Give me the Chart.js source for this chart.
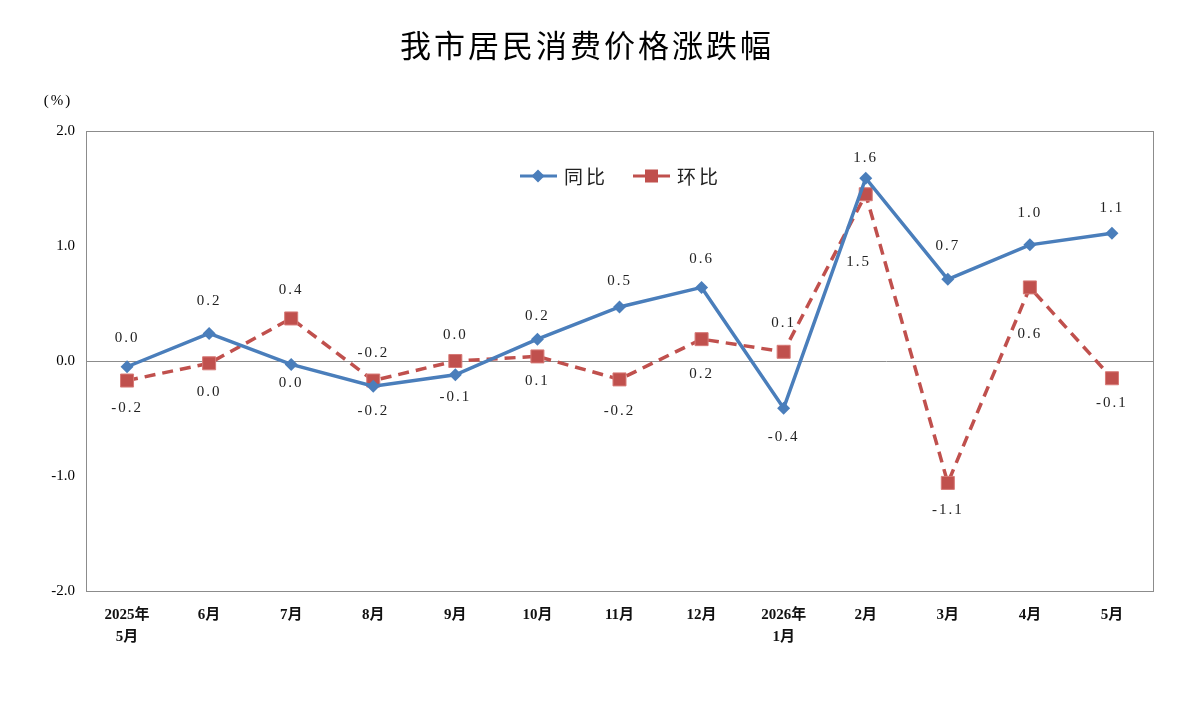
<!DOCTYPE html>
<html>
<head>
<meta charset="utf-8">
<script src="https://cdn.jsdelivr.net/npm/chart.js@4.4.1/dist/chart.umd.min.js"></script>
<style>
  html, body { margin: 0; padding: 0; background: #fff; }
  #wrap { width: 1202px; height: 720px; }
</style>
</head>
<body>
<div id="wrap"><canvas id="cpi" width="1202" height="720"></canvas></div>
<script>
// 我市居民消费价格涨跌幅

const categories = [['2025年', '5月'], '6月', '7月', '8月', '9月', '10月', '11月', '12月', ['2026年', '1月'], '2月', '3月', '4月', '5月']
const tongbi = [-0.05, 0.24, -0.03, -0.22, -0.12, 0.19, 0.47, 0.64, -0.41, 1.59, 0.71, 1.01, 1.11]
const huanbi = [-0.17, -0.02, 0.37, -0.17, 0.0, 0.04, -0.16, 0.19, 0.08, 1.45, -1.06, 0.64, -0.15]
const tongbiText = ['0.0', '0.2', '0.0', '-0.2', '-0.1', '0.2', '0.5', '0.6', '-0.4', '1.6', '0.7', '1.0', '1.1']
const huanbiText = ['-0.2', '0.0', '0.4', '-0.2', '0.0', '0.1', '-0.2', '0.2', '0.1', '1.5', '-1.1', '0.6', '-0.1']
const yTicks = [-2, -1, 0, 1, 2]

// label placement (px from point)
const tongbiDy = [-29, -32, 19, 25, 22, -23, -26, -28, 29, -20, -33, -32, -25]
const huanbiDy = [28, 29, -28, -27, -26, 25, 32, 35, -29, 68, 27, 47, 25]
const huanbiDx = [0, 0, 0, 0, 0, 0, 0, 0, 0, -7, 0, 0, 0]

const BLUE = '#4a7ebb'
const RED = '#c0504d'
const FONT = "'Liberation Serif', 'Noto Sans CJK SC', serif"
const CJK = "'Noto Sans CJK SC', 'Liberation Serif', serif"

const extras = {
    id: 'extras',
    beforeDatasetsDraw(chart) {
        const { ctx, chartArea: a } = chart
        ctx.save()
        ctx.strokeStyle = '#8c8c8c'
        ctx.lineWidth = 1
        ctx.strokeRect(a.left + 0.5, a.top + 0.5, a.right - a.left, a.bottom - a.top)
        ctx.restore()
    },
    afterDatasetsDraw(chart) {
        const { ctx } = chart
        ctx.save()
        ctx.fillStyle = '#222'
        ctx.font = '15px ' + FONT
        ctx.textAlign = 'center'
        ctx.textBaseline = 'middle'
        ctx.letterSpacing = '2px'
        chart.getDatasetMeta(0).data.forEach((p, i) => {
            ctx.fillText(tongbiText[i], p.x, p.y + tongbiDy[i])
        })
        chart.getDatasetMeta(1).data.forEach((p, i) => {
            ctx.fillText(huanbiText[i], p.x + huanbiDx[i], p.y + huanbiDy[i])
        })

        // title
        ctx.fillStyle = '#000'
        ctx.letterSpacing = '3px'
        ctx.font = '31px ' + CJK
        ctx.fillText('我市居民消费价格涨跌幅', 587, 45)

        // unit
        ctx.letterSpacing = '2px'
        ctx.font = '15px ' + FONT
        ctx.fillText('(%)', 58, 101)

        // legend
        ctx.letterSpacing = '3px'
        ctx.font = '19px ' + CJK
        ctx.textAlign = 'left'
        const ly = 176
        ctx.lineWidth = 3
        ctx.strokeStyle = BLUE
        ctx.beginPath(); ctx.moveTo(520, ly); ctx.lineTo(557, ly); ctx.stroke()
        ctx.fillStyle = BLUE
        ctx.beginPath()
        ctx.moveTo(538, ly - 6.5); ctx.lineTo(544.5, ly); ctx.lineTo(538, ly + 6.5); ctx.lineTo(531.5, ly)
        ctx.closePath(); ctx.fill()
        ctx.fillStyle = '#222'
        ctx.fillText('同比', 564, ly + 1)

        ctx.strokeStyle = RED
        ctx.beginPath(); ctx.moveTo(633, ly); ctx.lineTo(670, ly); ctx.stroke()
        ctx.fillStyle = RED
        ctx.fillRect(645, ly - 6.5, 13, 13)
        ctx.fillStyle = '#222'
        ctx.fillText('环比', 677, ly + 1)
        ctx.restore()
    }
}

new Chart(document.getElementById('cpi'), {
    type: 'line',
    data: {
        labels: categories,
        datasets: [{
            label: '同比',
            data: tongbi,
            borderColor: BLUE,
            backgroundColor: BLUE,
            borderWidth: 3.5,
            pointStyle: 'rectRot',
            pointRadius: 6.5,
            pointBorderWidth: 0,
            tension: 0
        }, {
            label: '环比',
            data: huanbi,
            borderColor: RED,
            backgroundColor: RED,
            borderWidth: 3.5,
            borderDash: [11, 7],
            pointStyle: 'rect',
            pointRadius: 9.2,
            pointBorderWidth: 1,
            pointBorderColor: '#d77a77',
            tension: 0
        }]
    },
    options: {
        responsive: false,
        animation: false,
        layout: { padding: { top: 131, right: 49, bottom: 0, left: 0 } },
        plugins: {
            legend: { display: false },
            title: { display: false },
            tooltip: { enabled: false }
        },
        scales: {
            x: {
                offset: true,
                grid: { display: false },
                border: { color: '#8c8c8c' },
                ticks: {
                    color: '#111',
                    font: { family: FONT, size: 15, weight: '600', lineHeight: 1.45 },
                    padding: 5,
                    maxRotation: 0,
                    autoSkip: false
                },
                afterFit(scale) { scale.height = 129 }
            },
            y: {
                min: -2,
                max: 2,
                afterBuildTicks(scale) { scale.ticks = yTicks.map(v => ({ value: v })) },
                grid: {
                    drawTicks: false,
                    color: ctx => ctx.tick && ctx.tick.value === 0 ? '#8c8c8c' : 'rgba(0,0,0,0)'
                },
                border: { color: '#8c8c8c' },
                ticks: {
                    color: '#000',
                    font: { family: FONT, size: 15 },
                    padding: 11,
                    callback: v => v.toFixed(1)
                },
                afterFit(scale) { scale.width = 86 }
            }
        }
    },
    plugins: [extras]
})
</script>
</body>
</html>
